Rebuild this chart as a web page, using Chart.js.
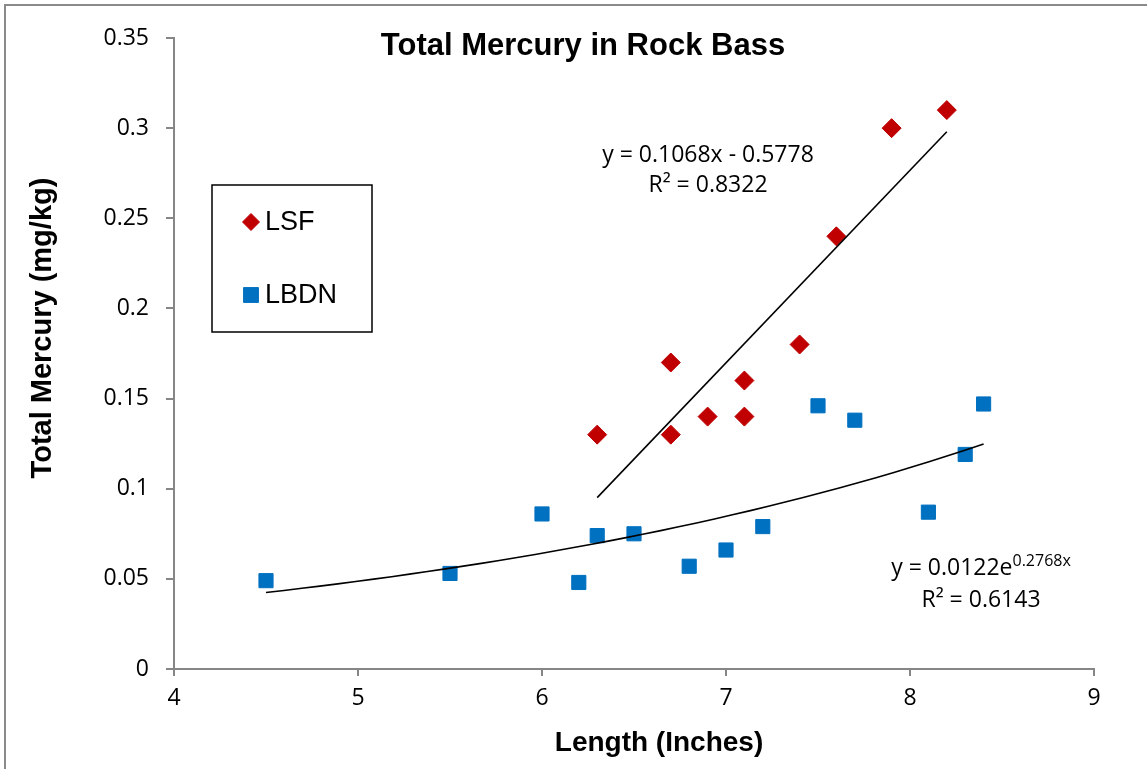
<!DOCTYPE html>
<html>
<head>
<meta charset="utf-8">
<script src="https://cdn.jsdelivr.net/npm/chart.js@4.4.1/dist/chart.umd.min.js"></script>
<style>
  html, body { margin: 0; padding: 0; background: #fff; }
  #wrap { position: relative; width: 1147px; height: 769px; }
  canvas { display: block; }
</style>
</head>
<body>
<div id="wrap"><canvas id="c" width="1147" height="769"></canvas></div>
<script>
// ---- Data ----
const chartTitle = 'Total Mercury in Rock Bass';
const xAxisTitle = 'Length (Inches)';
const yAxisTitle = 'Total Mercury (mg/kg)';
const seriesNames = ['LSF', 'LBDN'];

const lsfX = [6.3, 6.7, 6.7, 6.9, 7.1, 7.1, 7.4, 7.6, 7.9, 8.2];
const lsfY = [0.13, 0.17, 0.13, 0.14, 0.16, 0.14, 0.18, 0.24, 0.30, 0.31];

const lbdnX = [4.5, 5.5, 6.0, 6.2, 6.3, 6.5, 6.8, 7.0, 7.2, 7.5, 7.7, 8.1, 8.3, 8.4];
const lbdnY = [0.049, 0.053, 0.086, 0.048, 0.074, 0.075, 0.057, 0.066, 0.079, 0.146, 0.138, 0.087, 0.119, 0.147];

// Trendline coefficients as printed on the chart
const lsfLinear = [0.1068, -0.5778];      // y = a x + b
const lbdnExp = [0.0122, 0.2768];         // y = a e^(b x)
const lsfTrendLabel = ['y = 0.1068x - 0.5778', 'R² = 0.8322'];
const lbdnTrendLabel = ['y = 0.0122e', '0.2768x', 'R² = 0.6143'];

const xTicks = [4, 5, 6, 7, 8, 9];
const yTickLabels = ['0', '0.05', '0.1', '0.15', '0.2', '0.25', '0.3', '0.35'];

// ---- Build datasets ----
const toPts = (xs, ys) => xs.map((x, i) => ({ x: x, y: ys[i] }));
const xMin = a => Math.min.apply(null, a), xMax = a => Math.max.apply(null, a);

const linTrend = [xMin(lsfX), xMax(lsfX)].map(x => ({ x: x, y: lsfLinear[0] * x + lsfLinear[1] }));
const expTrend = [];
{
  const lo = xMin(lbdnX), hi = xMax(lbdnX), n = 40;
  for (let i = 0; i <= n; i++) {
    const x = lo + (hi - lo) * i / n;
    expTrend.push({ x: x, y: lbdnExp[0] * Math.exp(lbdnExp[1] * x) });
  }
}

const RED = '#C00000', BLUE = '#0070C0', AXIS = '#868686';
const ARIAL = '"Liberation Sans", Arial, sans-serif';
const CAL = '"Open Sans", "Noto Sans", sans-serif';

const decor = {
  id: 'decor',
  beforeDraw(chart) {
    const ctx = chart.ctx;
    ctx.save();
    ctx.fillStyle = '#fff';
    ctx.fillRect(0, 0, chart.width, chart.height);
    ctx.strokeStyle = '#8a8a8a';
    ctx.lineWidth = 2;
    ctx.beginPath();
    ctx.moveTo(5, 769); ctx.lineTo(5, 5); ctx.lineTo(1147, 5);
    ctx.stroke();
    ctx.restore();
  },
  afterDraw(chart) {
    const ctx = chart.ctx;
    ctx.save();
    ctx.fillStyle = '#000';
    ctx.textBaseline = 'middle';
    ctx.textAlign = 'center';
    // Title
    ctx.font = 'bold 31px ' + ARIAL;
    ctx.fillText(chartTitle, 583, 46);
    // X title
    ctx.font = 'bold 28px ' + ARIAL;
    ctx.fillText(xAxisTitle, 659, 743);
    // Y title
    ctx.save();
    ctx.translate(43, 328);
    ctx.rotate(-Math.PI / 2);
    ctx.font = 'bold 29px ' + ARIAL;
    ctx.fillText(yAxisTitle, 0, 0);
    ctx.restore();

    // Trendline labels
    ctx.font = '23px ' + CAL;
    ctx.fillText(lsfTrendLabel[0], 708, 155);
    ctx.fillText(lsfTrendLabel[1], 708, 185);
    // exponential label with superscript
    ctx.textAlign = 'left';
    const mainW = ctx.measureText(lbdnTrendLabel[0]).width;
    ctx.font = '16px ' + CAL;
    const supW = ctx.measureText(lbdnTrendLabel[1]).width;
    const startX = 981 - (mainW + supW) / 2;
    ctx.font = '23px ' + CAL;
    ctx.fillText(lbdnTrendLabel[0], startX, 568);
    ctx.font = '16px ' + CAL;
    ctx.fillText(lbdnTrendLabel[1], startX + mainW, 561);
    ctx.font = '23px ' + CAL;
    ctx.textAlign = 'center';
    ctx.fillText(lbdnTrendLabel[2], 981, 600);

    // Legend box
    ctx.strokeStyle = '#000';
    ctx.lineWidth = 1.5;
    ctx.strokeRect(212, 185, 160, 147);
    const ds = chart.data.datasets;
    const items = [
      { ds: ds[0], y: 222 },
      { ds: ds[1], y: 295 }
    ];
    items.forEach((it, i) => {
      const d = it.ds;
      ctx.fillStyle = d.backgroundColor;
      ctx.strokeStyle = d.borderColor;
      ctx.lineWidth = 1;
      Chart.helpers.drawPoint(ctx, {
        pointStyle: d.pointStyle,
        radius: i === 0 ? 8.5 : 10.5,
        borderWidth: 1,
        rotation: 0
      }, 251, it.y);
      ctx.fillStyle = '#000';
      ctx.textAlign = 'left';
      ctx.font = '27px ' + ARIAL;
      ctx.fillText(seriesNames[i], 265, it.y + 1);
    });
    ctx.restore();
  }
};

new Chart(document.getElementById('c'), {
  type: 'scatter',
  data: {
    datasets: [
      {
        label: seriesNames[0],
        data: toPts(lsfX, lsfY),
        pointStyle: 'rectRot',
        pointRadius: 9.5,
        pointHoverRadius: 9.5,
        backgroundColor: RED,
        borderColor: RED,
        borderWidth: 1,
        order: 2
      },
      {
        label: seriesNames[1],
        data: toPts(lbdnX, lbdnY),
        pointStyle: 'rect',
        pointRadius: 10,
        pointHoverRadius: 10,
        backgroundColor: BLUE,
        borderColor: BLUE,
        borderWidth: 1,
        order: 2
      },
      {
        label: 'lsf-trend',
        type: 'line',
        data: linTrend,
        showLine: true,
        pointRadius: 0,
        borderColor: '#000',
        borderWidth: 1.6,
        fill: false,
        order: 1
      },
      {
        label: 'lbdn-trend',
        type: 'line',
        data: expTrend,
        showLine: true,
        pointRadius: 0,
        borderColor: '#000',
        borderWidth: 1.6,
        tension: 0,
        fill: false,
        order: 1
      }
    ]
  },
  options: {
    responsive: false,
    animation: false,
    devicePixelRatio: 1,
    layout: { padding: { left: 0, top: 38, right: 53, bottom: 0 } },
    plugins: {
      legend: { display: false },
      title: { display: false },
      tooltip: { enabled: false }
    },
    scales: {
      x: {
        type: 'linear',
        min: xTicks[0],
        max: xTicks[xTicks.length - 1],
        afterBuildTicks(scale) { scale.ticks = xTicks.map(v => ({ value: v })); },
        afterFit(scale) { scale.height = 100; },
        border: { display: true, color: AXIS, width: 2 },
        grid: { display: true, drawOnChartArea: false, drawTicks: true, tickLength: 7, color: AXIS, lineWidth: 2 },
        ticks: {
          color: '#000',
          font: { family: CAL, size: 23 },
          padding: 9,
          callback: v => String(v)
        }
      },
      y: {
        type: 'linear',
        min: 0,
        max: 0.35,
        afterBuildTicks(scale) { scale.ticks = yTickLabels.map(l => ({ value: parseFloat(l) })); },
        afterFit(scale) { scale.width = 174; },
        border: { display: true, color: AXIS, width: 2 },
        grid: { display: true, drawOnChartArea: false, drawTicks: true, tickLength: 8, color: AXIS, lineWidth: 2 },
        ticks: {
          color: '#000',
          font: { family: CAL, size: 23 },
          padding: 17,
          callback: (v, i) => yTickLabels[i]
        }
      }
    }
  },
  plugins: [decor]
});
</script>
</body>
</html>
